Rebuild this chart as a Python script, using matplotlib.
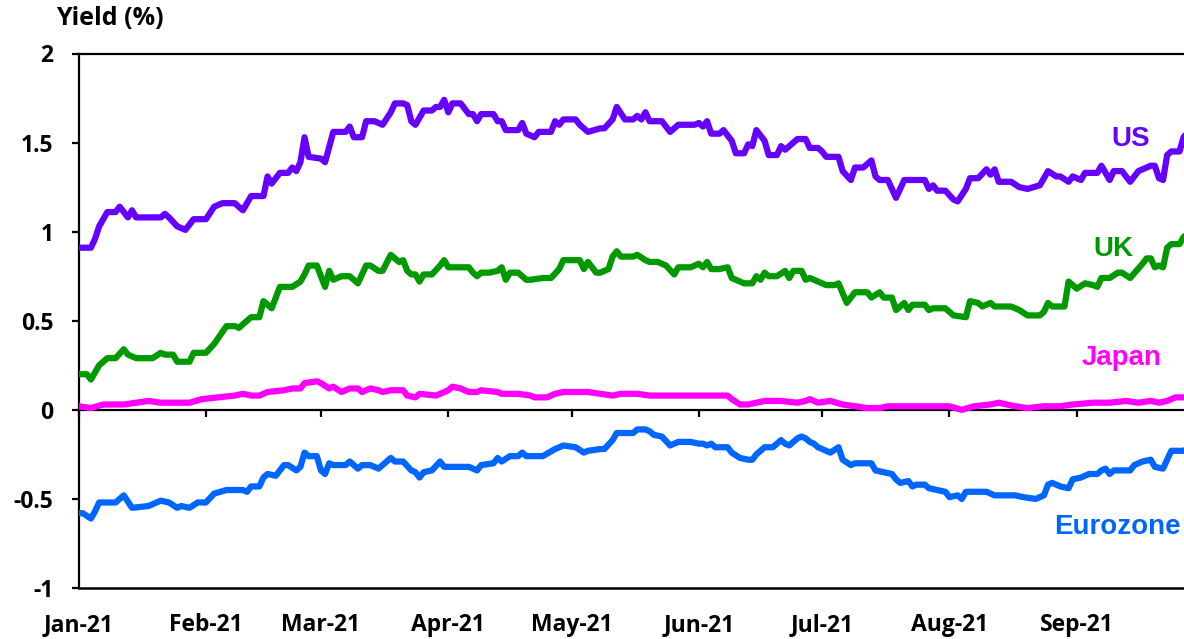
import matplotlib
matplotlib.use("Agg")
import matplotlib.pyplot as plt
import matplotlib.dates as mdates
import pandas as pd

# ---- data (days since 1 Jan 2021, yield %) ----
start = pd.Timestamp("2021-01-01")

us_day = [0, 3, 4, 5, 7, 9, 10, 12, 13, 14, 20, 21, 22, 24, 26, 28, 31, 33, 35, 38, 40, 42, 45, 46, 47,
          49, 51, 52, 53, 54, 55, 56, 59, 60, 62, 65, 66, 67, 69, 70, 72, 74, 76, 77, 79, 80, 81, 82, 84,
          86, 87, 88, 89, 90, 91, 93, 95, 96, 97, 98, 101, 102, 103, 104, 107, 108, 109, 111, 112, 115,
          116, 117, 118, 121, 122, 124, 127, 128, 130, 131, 133, 135, 136, 137, 138, 139, 142, 143, 144,
          146, 150, 151, 152, 153, 154, 156, 157, 159, 160, 162, 163, 164, 165, 167, 168, 170, 171, 172,
          173, 175, 177, 178, 180, 181, 182, 185, 186, 188, 189, 191, 193, 194, 195, 197, 199, 201, 206,
          207, 208, 209, 211, 213, 214, 216, 217, 219, 221, 222, 223, 224, 227, 229, 231, 234, 236, 238,
          239, 241, 242, 244, 245, 248, 249, 251, 252, 254, 256, 258, 261, 262, 263, 264, 265, 266, 268,
          269, 270]
us_val = [0.91, 0.91, 0.96, 1.03, 1.11, 1.11, 1.14, 1.08, 1.12, 1.08, 1.08, 1.10, 1.08, 1.03, 1.01, 1.07,
          1.07, 1.14, 1.16, 1.16, 1.12, 1.20, 1.20, 1.31, 1.27, 1.33, 1.33, 1.36, 1.34, 1.39, 1.53, 1.42,
          1.41, 1.39, 1.56, 1.56, 1.59, 1.53, 1.53, 1.62, 1.62, 1.60, 1.67, 1.72, 1.72, 1.71, 1.62, 1.60,
          1.68, 1.68, 1.70, 1.70, 1.74, 1.67, 1.72, 1.72, 1.66, 1.66, 1.62, 1.66, 1.66, 1.62, 1.62, 1.57,
          1.57, 1.61, 1.55, 1.53, 1.56, 1.56, 1.62, 1.60, 1.63, 1.63, 1.60, 1.56, 1.58, 1.58, 1.63, 1.70,
          1.63, 1.63, 1.65, 1.63, 1.67, 1.62, 1.62, 1.59, 1.56, 1.60, 1.60, 1.61, 1.59, 1.62, 1.55, 1.55,
          1.57, 1.51, 1.44, 1.44, 1.49, 1.48, 1.57, 1.51, 1.43, 1.43, 1.48, 1.46, 1.48, 1.52, 1.52, 1.47,
          1.47, 1.45, 1.42, 1.42, 1.34, 1.29, 1.36, 1.36, 1.40, 1.31, 1.29, 1.29, 1.19, 1.29, 1.29, 1.24,
          1.26, 1.23, 1.23, 1.18, 1.17, 1.24, 1.30, 1.30, 1.35, 1.32, 1.35, 1.28, 1.28, 1.25, 1.24, 1.26,
          1.34, 1.31, 1.31, 1.28, 1.31, 1.29, 1.33, 1.33, 1.37, 1.29, 1.34, 1.34, 1.28, 1.34, 1.37, 1.37,
          1.30, 1.29, 1.43, 1.45, 1.45, 1.53, 1.56]

uk_day = [0, 2, 3, 5, 7, 9, 11, 12, 14, 18, 20, 21, 23, 24, 27, 28, 31, 33, 36, 38, 39, 40, 42, 44, 45,
          47, 49, 52, 54, 55, 56, 58, 60, 61, 62, 64, 66, 68, 70, 71, 73, 74, 76, 78, 79, 80, 81, 82, 83,
          84, 86, 88, 89, 90, 95, 96, 97, 98, 100, 102, 103, 104, 105, 107, 109, 110, 113, 115, 117, 118,
          122, 123, 124, 126, 127, 129, 130, 131, 132, 135, 136, 138, 139, 141, 143, 145, 146, 149, 151,
          152, 153, 154, 156, 158, 159, 160, 162, 164, 165, 166, 167, 168, 170, 172, 173, 174, 176, 177,
          178, 180, 182, 184, 185, 187, 189, 192, 193, 195, 196, 198, 199, 201, 202, 203, 206, 207, 208,
          211, 213, 216, 217, 219, 220, 222, 223, 227, 229, 231, 234, 235, 236, 237, 240, 241, 243, 245,
          247, 248, 249, 251, 253, 254, 256, 259, 260, 261, 262, 263, 264, 265, 266, 268, 269, 270]
uk_val = [0.20, 0.20, 0.17, 0.25, 0.29, 0.29, 0.34, 0.31, 0.29, 0.29, 0.32, 0.31, 0.31, 0.27, 0.27, 0.32,
          0.32, 0.37, 0.47, 0.47, 0.46, 0.48, 0.52, 0.52, 0.61, 0.57, 0.69, 0.69, 0.72, 0.76, 0.81, 0.81,
          0.69, 0.78, 0.73, 0.75, 0.75, 0.71, 0.81, 0.81, 0.78, 0.78, 0.87, 0.83, 0.84, 0.78, 0.76, 0.76,
          0.72, 0.76, 0.76, 0.81, 0.84, 0.80, 0.80, 0.77, 0.75, 0.77, 0.77, 0.78, 0.80, 0.73, 0.77, 0.77,
          0.73, 0.73, 0.74, 0.74, 0.79, 0.84, 0.84, 0.79, 0.83, 0.77, 0.77, 0.79, 0.86, 0.89, 0.86, 0.86,
          0.87, 0.84, 0.83, 0.83, 0.81, 0.76, 0.80, 0.80, 0.82, 0.80, 0.83, 0.79, 0.79, 0.80, 0.74, 0.73,
          0.71, 0.71, 0.75, 0.73, 0.77, 0.75, 0.75, 0.78, 0.74, 0.78, 0.78, 0.73, 0.74, 0.72, 0.70, 0.70,
          0.71, 0.60, 0.66, 0.66, 0.63, 0.66, 0.63, 0.63, 0.56, 0.60, 0.56, 0.59, 0.59, 0.56, 0.57, 0.57,
          0.53, 0.52, 0.61, 0.60, 0.58, 0.60, 0.58, 0.58, 0.56, 0.53, 0.53, 0.55, 0.60, 0.58, 0.58, 0.72,
          0.68, 0.71, 0.70, 0.69, 0.74, 0.74, 0.77, 0.77, 0.74, 0.82, 0.85, 0.85, 0.80, 0.81, 0.80, 0.91,
          0.93, 0.93, 0.97, 0.99]

jp_day = [0, 3, 6, 11, 17, 20, 25, 27, 30, 34, 38, 40, 42, 44, 46, 50, 52, 54, 55, 58, 59, 61, 62, 64,
          66, 68, 69, 71, 73, 74, 76, 79, 80, 82, 83, 87, 90, 91, 93, 95, 97, 98, 102, 103, 107, 110, 111,
          114, 116, 118, 124, 127, 130, 132, 136, 139, 144, 146, 158, 159, 161, 163, 165, 167, 171, 175,
          177, 178, 180, 183, 186, 189, 192, 195, 197, 201, 207, 212, 215, 218, 222, 224, 228, 231, 235,
          239, 242, 247, 251, 255, 258, 261, 263, 265, 267, 270]
jp_val = [0.02, 0.01, 0.03, 0.03, 0.05, 0.04, 0.04, 0.04, 0.06, 0.07, 0.08, 0.09, 0.08, 0.08, 0.10, 0.11,
          0.12, 0.12, 0.15, 0.16, 0.15, 0.12, 0.13, 0.10, 0.12, 0.12, 0.10, 0.12, 0.11, 0.10, 0.11, 0.11,
          0.08, 0.07, 0.09, 0.08, 0.11, 0.13, 0.12, 0.10, 0.10, 0.11, 0.10, 0.09, 0.09, 0.08, 0.07, 0.07,
          0.09, 0.10, 0.10, 0.09, 0.08, 0.09, 0.09, 0.08, 0.08, 0.08, 0.08, 0.06, 0.03, 0.03, 0.04, 0.05,
          0.05, 0.04, 0.05, 0.06, 0.04, 0.05, 0.03, 0.02, 0.01, 0.01, 0.02, 0.02, 0.02, 0.02, 0.00, 0.02,
          0.03, 0.04, 0.02, 0.01, 0.02, 0.02, 0.03, 0.04, 0.04, 0.05, 0.04, 0.05, 0.04, 0.05, 0.07, 0.07]

ez_day = [0, 1, 3, 4, 5, 9, 11, 13, 17, 20, 22, 24, 25, 27, 29, 31, 33, 36, 40, 41, 42, 44, 45, 46, 48,
          50, 51, 53, 54, 55, 56, 58, 59, 60, 61, 62, 65, 66, 68, 69, 71, 73, 74, 76, 77, 79, 81, 82, 83,
          84, 86, 88, 89, 94, 95, 97, 98, 101, 102, 103, 105, 107, 108, 109, 111, 113, 116, 118, 121, 123,
          124, 127, 128, 130, 131, 133, 135, 136, 138, 139, 140, 142, 144, 146, 149, 151, 152, 153, 154,
          155, 158, 159, 161, 163, 164, 165, 166, 167, 169, 171, 172, 173, 175, 176, 177, 178, 179, 180,
          182, 183, 185, 186, 188, 189, 193, 194, 196, 198, 199, 200, 202, 203, 204, 206, 207, 209, 211,
          212, 214, 215, 216, 218, 220, 221, 223, 226, 228, 230, 233, 235, 236, 237, 239, 241, 242, 244,
          246, 248, 249, 250, 251, 252, 254, 256, 257, 259, 261, 262, 264, 265, 266, 269, 270]
ez_val = [-0.58, -0.58, -0.61, -0.57, -0.52, -0.52, -0.48, -0.55, -0.54, -0.51, -0.52, -0.55, -0.54,
          -0.55, -0.52, -0.52, -0.47, -0.45, -0.45, -0.46, -0.43, -0.43, -0.38, -0.36, -0.37, -0.31, -0.31,
          -0.34, -0.32, -0.24, -0.26, -0.26, -0.34, -0.36, -0.30, -0.31, -0.31, -0.29, -0.33, -0.31, -0.31,
          -0.33, -0.31, -0.27, -0.29, -0.29, -0.34, -0.35, -0.38, -0.35, -0.34, -0.29, -0.32, -0.32, -0.32,
          -0.34, -0.31, -0.30, -0.27, -0.29, -0.26, -0.26, -0.24, -0.26, -0.26, -0.26, -0.22, -0.20, -0.21,
          -0.24, -0.23, -0.22, -0.22, -0.17, -0.13, -0.13, -0.13, -0.11, -0.11, -0.12, -0.14, -0.15, -0.20,
          -0.18, -0.18, -0.19, -0.19, -0.20, -0.19, -0.21, -0.21, -0.24, -0.27, -0.28, -0.28, -0.25, -0.23,
          -0.21, -0.21, -0.17, -0.19, -0.20, -0.16, -0.15, -0.16, -0.18, -0.19, -0.21, -0.23, -0.24, -0.21,
          -0.28, -0.31, -0.30, -0.30, -0.34, -0.35, -0.36, -0.39, -0.41, -0.40, -0.43, -0.42, -0.42, -0.44,
          -0.45, -0.46, -0.49, -0.48, -0.50, -0.46, -0.46, -0.46, -0.46, -0.48, -0.48, -0.48, -0.49, -0.50,
          -0.48, -0.42, -0.41, -0.43, -0.44, -0.39, -0.38, -0.36, -0.36, -0.34, -0.33, -0.36, -0.34, -0.34,
          -0.34, -0.31, -0.29, -0.28, -0.32, -0.33, -0.28, -0.23, -0.23, -0.22]

series = [
    ("US", us_day, us_val, "#6600FF", 256, 1.52),
    ("UK", uk_day, uk_val, "#009900", 252, 0.90),
    ("Japan", jp_day, jp_val, "#FF00FF", 254, 0.29),
    ("Eurozone", ez_day, ez_val, "#0066FF", 253, -0.66),
]

y_ticks = [-1, -0.5, 0, 0.5, 1, 1.5, 2]
y_tick_labels = ["-1", "-0.5", "0", "0.5", "1", "1.5", "2"]

# ---- figure ----
W, H = 1184, 639
fig = plt.figure(figsize=(W / 100, H / 100), dpi=100)
left_px, right_px, top_px, bot_px = 78.6, 1184, 53.5, 588
ax = fig.add_axes([left_px / W, 1 - bot_px / H, (right_px - left_px) / W, (bot_px - top_px) / H])

TICK_FAMILY = ["Open Sans", "DejaVu Sans"]

for name, d, v, col, lx, ly in series:
    dates = start + pd.to_timedelta(d, unit="D")
    ax.plot(dates, v, color=col, lw=4.5, solid_joinstyle="round", solid_capstyle="round", zorder=3)
    ax.text(start + pd.Timedelta(days=lx), ly, name, color=col, ha="center", va="center",
            fontsize=20, fontweight="bold", family="Liberation Sans", zorder=4)

ax.set_xlim(start, start + pd.Timedelta(days=269.1))
ax.set_ylim(-1, 2)

# spines
for s in ["left", "top", "bottom"]:
    ax.spines[s].set_linewidth(1.6)
    ax.spines[s].set_color("black")
ax.spines["right"].set_visible(False)
ax.spines["bottom"].set_position(("data", 0))
ax.axhline(-1, color="black", lw=1.8, clip_on=False, zorder=2)

ax.set_yticks(y_ticks)
ax.set_yticklabels(y_tick_labels)
ax.tick_params(axis="y", direction="out", length=5, width=1.6, pad=13)

ax.xaxis.set_major_locator(mdates.MonthLocator())
ax.xaxis.set_major_formatter(mdates.DateFormatter("%b-%y"))
ax.tick_params(axis="x", direction="out", length=5, width=1.6, pad=141)

fig.canvas.draw()
for lab in ax.get_xticklabels() + ax.get_yticklabels():
    lab.set_family(TICK_FAMILY)
    lab.set_weight("bold")
    lab.set_size(16.5)

fig.text(56 / W, 1 - 6 / H, "Yield (%)", ha="left", va="top", fontsize=18, fontweight="bold",
         family=TICK_FAMILY)

fig.savefig("out.png", dpi=100)
